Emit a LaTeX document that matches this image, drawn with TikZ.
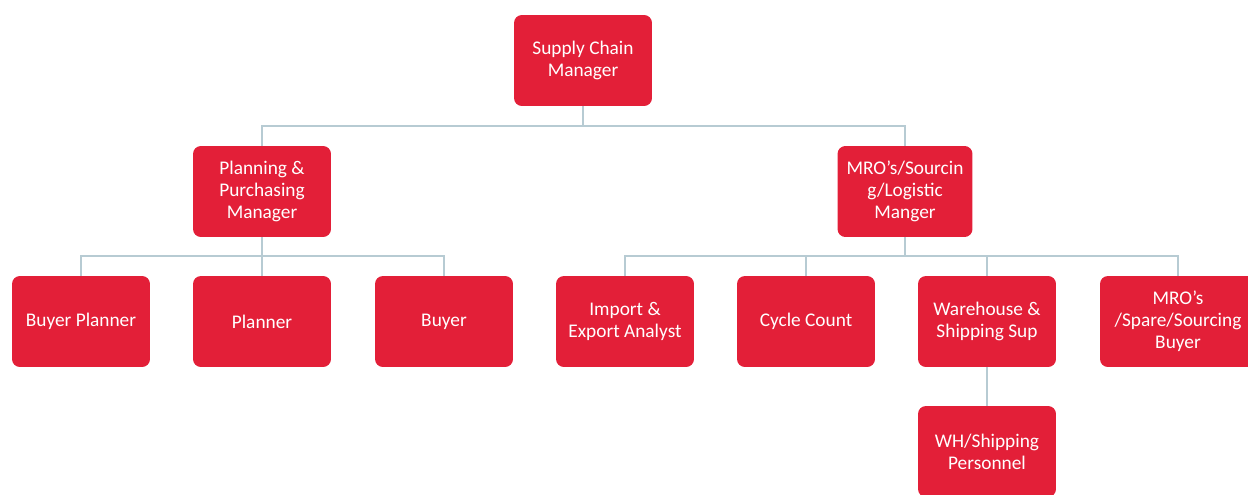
\documentclass[tikz,border=0pt]{standalone}
\usepackage{fontspec}
\setmainfont{Carlito}
\definecolor{boxred}{HTML}{E31F38}
\definecolor{linkgrey}{HTML}{B7CBD3}
\tikzset{role/.style={fill=boxred, draw=none, rounded corners=4.5pt, text=white,
minimum width=2.76cm, minimum height=1.82cm, align=center, inner sep=2pt,
font=\fontsize{11}{12.4}\selectfont},
link/.style={draw=linkgrey, line width=1.1pt}}

\begin{document}
\begin{tikzpicture}[x=0.02cm, y=-0.02cm]
				\useasboundingbox (0,0) rectangle (1248,494);
				% top
				\node[role] (scm) at (583,60.5) {Supply Chain\\Manager};
				% managers
				\node[role] (ppm) at (262,191.5) {Planning \&\\Purchasing\\Manager};
				\node[role, minimum width=2.7cm] (mrom) at (905,191.5) {MRO’s/Sourcin\\g/Logistic\\Manger};
				% staff
				\node[role] (bp) at (81,321.5) {Buyer Planner};
				\node[role] (planner) at (262,321.5) {Planner};
				\node[role] (buyer) at (444,321.5) {Buyer};
				\node[role] (imp) at (625,321.5) {Import \&\\Export Analyst};
				\node[role] (cc) at (806,321.5) {Cycle Count};
				\node[role] (wh) at (987,321.5) {Warehouse \&\\Shipping Sup};
				\node[role, minimum width=3.12cm] (spare) at (1178,321.5) {MRO’s\\/Spare/Sourcing\\Buyer};
				\node[role] (whp) at (987,451.5) {WH/Shipping\\Personnel};
				% buses
				\coordinate (bus1) at (583,126);
				\coordinate (bus2) at (262,256);
				\coordinate (bus3) at (905,256);
				\draw[link] (scm.south) -- (bus1);
				\draw[link] (ppm.north) |- (bus1) -| (mrom.north);
				\draw[link] (ppm.south) -- (planner.north);
				\draw[link] (bp.north) |- (bus2) -| (buyer.north);
				\draw[link] (mrom.south) -- (bus3);
				\draw[link] (imp.north) |- (bus3) -| (spare.north);
				\draw[link] (cc.north) -- (cc.north |- bus3);
				\draw[link] (wh.north) -- (wh.north |- bus3);
				\draw[link] (wh.south) -- (whp.north);
			\end{tikzpicture}
\end{document}
